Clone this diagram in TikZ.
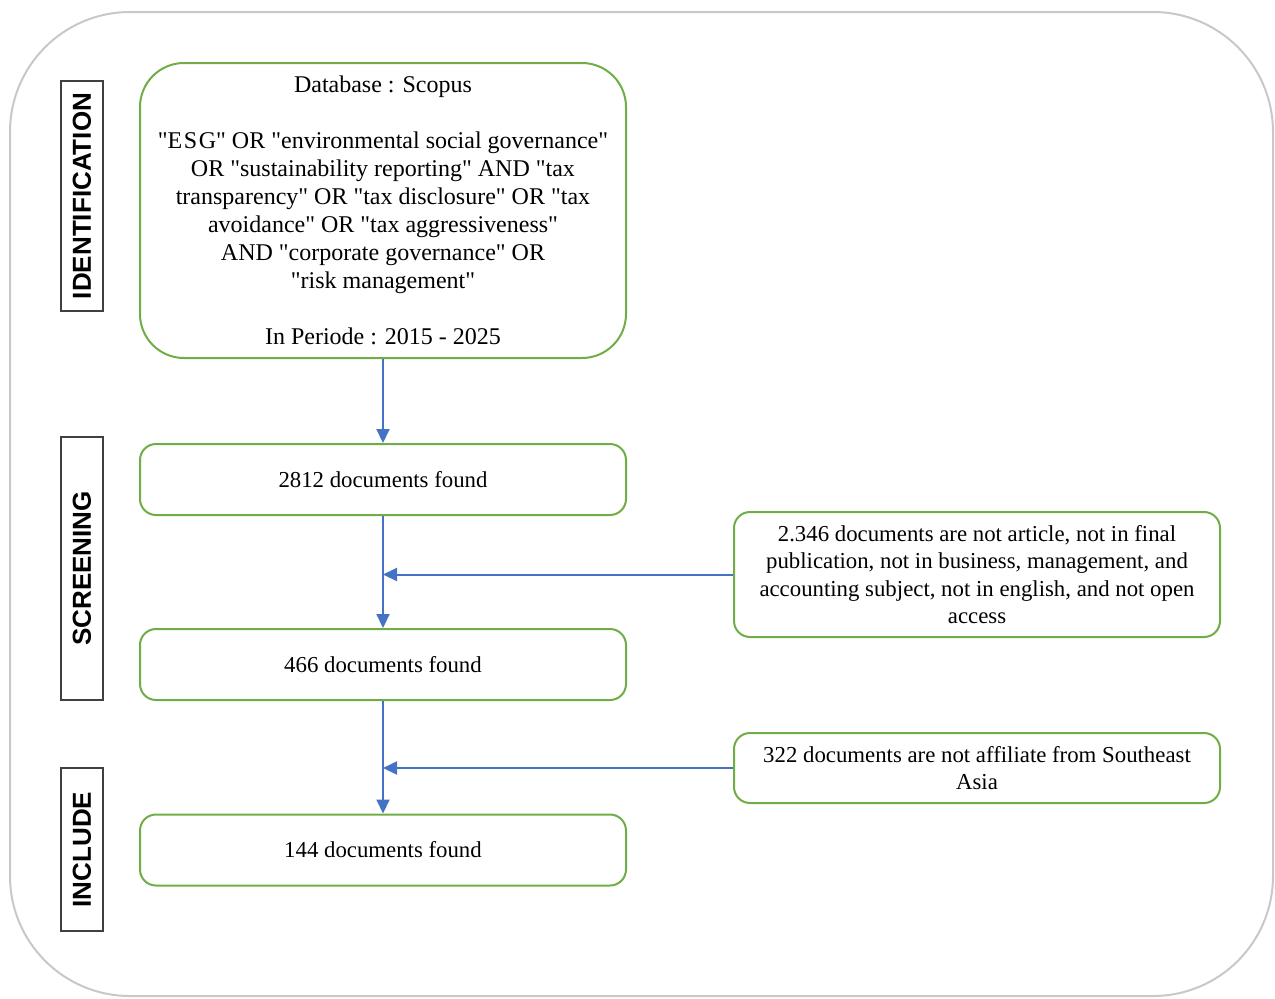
\documentclass[tikz,border=0pt]{standalone}
\usepackage{fontspec}
\setmainfont{Liberation Serif}[Ligatures=TeXOff]
\newfontfamily\labelfont{Liberation Sans}
\usetikzlibrary{arrows.meta}
\definecolor{boxgreen}{HTML}{70AD47}
\definecolor{arrowblue}{HTML}{4472C4}
\definecolor{framegray}{HTML}{C8C8C8}
\begin{document}
\begin{tikzpicture}[x=0.5pt,y=-0.5pt,
  flowbox/.style={draw=boxgreen, line width=1pt, rounded corners=8pt, align=center,
    font=\fontsize{11.4}{13.7}\selectfont, minimum width=243pt, minimum height=35.5pt, inner sep=0pt},
  stagebox/.style={draw=black!75, line width=0.6pt, rotate=90,
    font=\labelfont\bfseries\fontsize{13}{15}\selectfont, minimum height=21pt, inner sep=0pt},
  flowarrow/.style={draw=arrowblue, line width=1pt, -{Triangle[width=6.5pt,length=7pt]}}]
\useasboundingbox (0,0) rectangle (1275,998);
\draw[framegray, line width=1pt, rounded corners=60pt] (10,12) rectangle (1273,996);

\node[flowbox, rounded corners=22pt, minimum height=147.5pt, font=\fontsize{12}{14}\selectfont] (db) at (383,210.5)
  {Database : Scopus\\[14pt]
   "E\kern0.8pt S\kern0.8pt G" OR "environmental social governance"\\
   OR "sustainability reporting" AND "tax\\
   transparency" OR "tax disclosure" OR "tax\\
   avoidance" OR "tax aggressiveness"\\
   AND "corporate governance" OR\\
   "risk management"\\[14pt]
   In Periode : 2015 - 2025};
\node[flowbox] (n2812) at (383,479.5) {2812 documents found};
\node[flowbox] (n466) at (383,664.5) {466 documents found};
\node[flowbox] (n144) at (383,850) {144 documents found};
\node[flowbox, minimum height=62.5pt] (ex1) at (977,574.5)
  {2.346 documents are not article, not in final\\
   publication, not in business, management, and\\
   accounting subject, not in english, and not open\\
   access};
\node[flowbox, minimum height=35pt] (ex2) at (977,768)
  {322 documents are not affiliate from Southeast\\
   Asia};

\node[stagebox, minimum width=115pt] (lid) at (82,196) {IDENTIFICATION};
\node[stagebox, minimum width=131.5pt] (lsc) at (82,568.5) {SCREENING};
\node[stagebox, minimum width=81.5pt] (lin) at (82,849.5) {INCLUDE};

\draw[flowarrow] (db) -- (n2812);
\draw[flowarrow] (n2812) -- (n466);
\draw[flowarrow] (n466) -- (n144);
\draw[flowarrow] (ex1.west) -- (ex1.west -| n2812.center);
\draw[flowarrow] (ex2.west) -- (ex2.west -| n466.center);
\end{tikzpicture}
\end{document}
